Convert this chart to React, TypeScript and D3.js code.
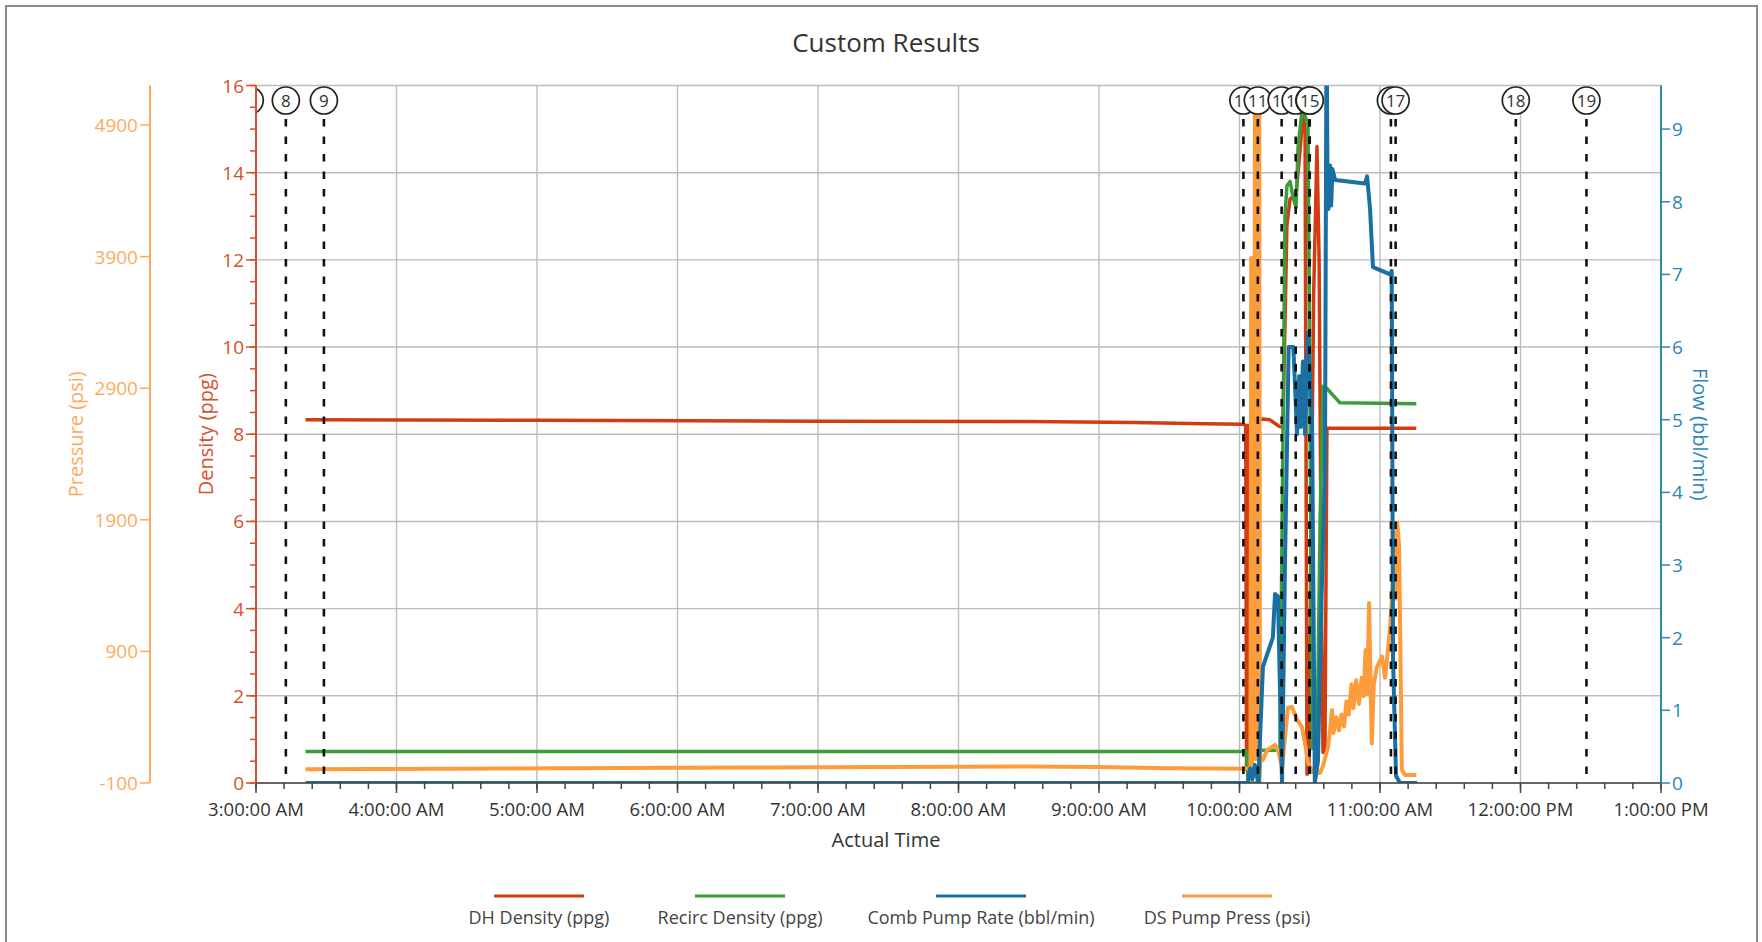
import React from 'react';
import * as d3 from 'd3';

// ---------- DATA ----------
const timeDomain: [string, string] = ['03:00:00', '13:00:00'];
const densityTicks = [0, 2, 4, 6, 8, 10, 12, 14, 16];
const pressureTicks = [-100, 900, 1900, 2900, 3900, 4900];
const flowTicks = [0, 1, 2, 3, 4, 5, 6, 7, 8, 9];
const densityDomain: [number, number] = [0, 16];
const pressureDomain: [number, number] = [-100, 5200];
const flowDomain: [number, number] = [0, 9.6];

const eventIds = [7, 8, 9, 10, 11, 12, 13, 14, 15, 16, 17, 18, 19];
const eventTimes = ['02:57:20', '03:12:45', '03:29:00', '10:01:40', '10:07:50', '10:18:00', '10:24:00', '10:29:50', '10:30:00', '11:04:40', '11:06:40', '11:58:00', '12:28:10'];

type Pt = [string, number];

const dhDensity: Pt[] = [
  ['03:21:10', 8.33], ['05:00:00', 8.32], ['07:00:00', 8.3], ['08:30:00', 8.29], ['09:15:00', 8.27],
  ['09:45:00', 8.24], ['10:01:30', 8.23], ['10:02:40', 8.2], ['10:03:00', 0.3], ['10:03:20', 8.2],
  ['10:03:40', 0.3], ['10:04:00', 0.3],
  ['10:04:30', 8.22], ['10:07:30', 8.3], ['10:09:40', 8.35], ['10:13:00', 8.33], ['10:16:25', 8.2],
  ['10:18:30', 8.15], ['10:19:25', 10.5], ['10:20:15', 12.8], ['10:21:35', 13.4], ['10:24:10', 13.5],
  ['10:25:50', 14.5], ['10:27:05', 15.3], ['10:28:00', 15.0], ['10:28:50', 0.2], ['10:29:40', 0.3],
  ['10:30:40', 6.0], ['10:31:40', 11.2], ['10:33:05', 14.6], ['10:34:00', 12.0], ['10:35:00', 4.0],
  ['10:35:40', 0.7], ['10:36:30', 0.8], ['10:37:20', 8.14], ['11:15:30', 8.14],
];

const recircDensity: Pt[] = [
  ['03:21:10', 0.72], ['10:03:10', 0.72], ['10:03:40', 0.0], ['10:08:30', 0.0], ['10:09:00', 0.75],
  ['10:17:15', 0.75], ['10:18:35', 8.0], ['10:19:25', 13.0], ['10:20:15', 13.7], ['10:21:35', 13.8],
  ['10:23:00', 13.4], ['10:24:10', 13.2], ['10:25:00', 14.6], ['10:26:40', 15.4], ['10:28:00', 15.3],
  ['10:29:15', 15.1], ['10:30:05', 9.0], ['10:31:00', 0.8], ['10:33:05', 0.8], ['10:34:25', 6.0],
  ['10:35:40', 9.1], ['10:37:20', 9.05], ['10:42:55', 8.72], ['11:15:30', 8.7],
];

const combPumpRate: Pt[] = [
  ['03:21:10', 0], ['10:03:30', 0], ['10:04:30', 0.2], ['10:05:30', 0.05], ['10:06:30', 0.25],
  ['10:08:00', 0.0], ['10:10:00', 1.6], ['10:14:15', 2.0], ['10:15:10', 2.6], ['10:16:25', 2.57],
  ['10:18:10', 0.0], ['10:19:25', 3.0], ['10:21:00', 6.0], ['10:23:00', 6.0], ['10:24:35', 4.8],
  ['10:25:30', 5.6], ['10:26:10', 4.9], ['10:27:05', 5.8], ['10:28:00', 4.8], ['10:29:15', 6.2],
  ['10:31:00', 4.95], ['10:32:10', 0.0], ['10:33:30', 0.3], ['10:35:00', 2.5], ['10:36:30', 4.3],
  ['10:37:10', 10.5], ['10:37:40', 7.9], ['10:38:00', 7.9], ['10:38:40', 8.5], ['10:39:10', 7.95],
  ['10:39:40', 8.45], ['10:40:50', 8.3], ['10:53:35', 8.25], ['10:54:30', 8.35], ['10:55:45', 7.9],
  ['10:57:00', 7.1], ['11:04:20', 7.0], ['11:05:00', 7.05], ['11:05:35', 1.7], ['11:06:50', 0.1],
  ['11:08:30', 0.0], ['11:15:50', 0.0],
];

const dsPumpPress: Pt[] = [
  ['03:21:10', 5], ['06:00:00', 15], ['08:30:00', 25], ['09:00:00', 22], ['09:30:00', 12],
  ['10:03:00', 8], ['10:04:40', 15], ['10:05:00', 3890], ['10:05:20', 60], ['10:05:40', 3890],
  ['10:06:00', 3890], ['10:06:15', 100], ['10:06:35', 5150], ['10:06:55', 80], ['10:07:15', 5150],
  ['10:07:45', 5150], ['10:08:05', 100], ['10:08:25', 5150], ['10:08:45', 80], ['10:10:00', 75], ['10:11:50', 150],
  ['10:15:10', 190], ['10:16:25', 150], ['10:18:10', 20], ['10:18:35', 90], ['10:20:40', 470],
  ['10:22:25', 477], ['10:24:35', 380], ['10:26:40', 325], ['10:28:00', 200], ['10:29:15', 52],
  ['10:31:25', -18], ['10:34:25', -24], ['10:35:40', 30], ['10:37:50', 173], ['10:38:40', 300],
  ['10:39:30', 454], ['10:40:10', 280], ['10:41:20', 400], ['10:42:30', 300], ['10:43:30', 420],
  ['10:44:40', 330], ['10:45:40', 520], ['10:46:40', 420], ['10:47:50', 650], ['10:48:40', 470],
  ['10:49:50', 680], ['10:51:00', 500], ['10:52:10', 700], ['10:53:00', 560], ['10:53:50', 910],
  ['10:54:30', 580], ['10:55:20', 1267], ['10:56:30', 200], ['10:57:20', 650], ['10:58:40', 780],
  ['11:00:50', 860], ['11:02:10', 700], ['11:03:20', 900], ['11:04:20', 1085], ['11:05:30', 1420],
  ['11:06:10', 1800], ['11:06:40', 1300], ['11:07:20', 1880], ['11:08:10', 1700], ['11:09:20', 0], ['11:10:40', -40],
  ['11:15:30', -40],
];

const legendLabels = ['DH Density (ppg)', 'Recirc Density (ppg)', 'Comb Pump Rate (bbl/min)', 'DS Pump Press (psi)'];

// ---------- STYLE / LAYOUT ----------
const W = 1762;
const H = 942;
const L = 256;
const R = 1661;
const T = 85.5;
const B = 783;
const FONT = "'Open Sans', 'Noto Sans', sans-serif";
const C_RED = '#d13c10';
const C_RED_AX = '#d4512b';
const C_GREEN = '#3b9e3a';
const C_BLUE = '#1a6fa3';
const C_BLUE_AX = '#2e85b6';
const C_ORANGE = '#fd9c3a';
const C_ORANGE_AX = '#fcab5e';
const GRID = '#bdbdbd';

const parseT = d3.timeParse('%H:%M:%S');
const pt = (s: string) => parseT(s) as Date;

export default function App() {
  const x = d3.scaleTime().domain([pt(timeDomain[0]), pt(timeDomain[1])]).range([L, R]);
  const yD = d3.scaleLinear().domain(densityDomain).range([B, T]);
  const yP = d3.scaleLinear().domain(pressureDomain).range([B, T]);
  const yF = d3.scaleLinear().domain(flowDomain).range([B, T]);

  const mk = (y: d3.ScaleLinear<number, number>) =>
    d3.line<Pt>().x((d) => x(pt(d[0]))).y((d) => y(d[1]));

  const hourTicks = x.ticks(d3.timeHour.every(1) as any);
  const minorX = x.ticks(d3.timeMinute.every(12) as any);
  const fmt = d3.timeFormat('%-I:%M:%S %p');
  const minorD = d3.range(0, 16.01, 0.5);

  const series = [
    { data: dhDensity, y: yD, color: C_RED, w: 3.5 },
    { data: recircDensity, y: yD, color: C_GREEN, w: 3.5 },
    { data: dsPumpPress, y: yP, color: C_ORANGE, w: 4 },
    { data: combPumpRate, y: yF, color: C_BLUE, w: 4 },
  ];
  const legendColors = [C_RED, C_GREEN, C_BLUE, C_ORANGE];
  const legendCenters = [539, 740, 981, 1227];
  const cy = 100.5;
  const midY = (T + B) / 2;

  return (
    <svg width={W} height={H} style={{ position: 'absolute', left: 0, top: 0, background: '#fff' }} fontFamily={FONT}>
      <defs>
        <clipPath id="plotClip">
          <rect x={L} y={T} width={R - L} height={B - T} />
        </clipPath>
        <clipPath id="markClip">
          <rect x={L} y={0} width={R - L + 40} height={B} />
        </clipPath>
      </defs>
      <rect x={6} y={6} width={1751} height={960} fill="#fff" stroke="#8a8a8a" strokeWidth={2} />

      <text x={886} y={52} textAnchor="middle" fontSize={26} fill="#333">Custom Results</text>

      {/* grid */}
      {hourTicks.map((t, i) => (
        <line key={'gx' + i} x1={x(t)} x2={x(t)} y1={T} y2={B} stroke={GRID} strokeWidth={1.4} />
      ))}
      {densityTicks.map((v) => (
        <line key={'gy' + v} x1={L} x2={R} y1={yD(v)} y2={yD(v)} stroke={GRID} strokeWidth={1.4} />
      ))}

      {/* series */}
      <g clipPath="url(#plotClip)">
        {series.map((s, i) => (
          <path key={'s' + i} d={mk(s.y)(s.data) || ''} fill="none" stroke={s.color} strokeWidth={s.w} strokeLinejoin="round" />
        ))}
      </g>

      {/* event markers */}
      <g clipPath="url(#markClip)">
        {eventTimes.map((t, i) => (
          <line key={'el' + i} x1={x(pt(t))} x2={x(pt(t))} y1={119} y2={B - 2} stroke="#111" strokeWidth={2.6} strokeDasharray="7.5 10" />
        ))}
        {eventTimes.map((t, i) => (
          <g key={'ec' + i}>
            <circle cx={x(pt(t))} cy={cy} r={13.5} fill="#fff" stroke="#222" strokeWidth={1.7} />
            <text x={x(pt(t))} y={cy + 6} textAnchor="middle" fontSize={17} fill="#333">{eventIds[i]}</text>
          </g>
        ))}
      </g>

      {/* x axis */}
      <line x1={L} x2={R} y1={B} y2={B} stroke="#444" strokeWidth={1.5} />
      {minorX.map((t, i) => (
        <line key={'mx' + i} x1={x(t)} x2={x(t)} y1={B} y2={B + 6} stroke="#444" strokeWidth={1.5} />
      ))}
      {hourTicks.map((t, i) => (
        <g key={'hx' + i}>
          <line x1={x(t)} x2={x(t)} y1={B} y2={B + 10} stroke="#444" strokeWidth={1.5} />
          <text x={x(t)} y={816} textAnchor="middle" fontSize={18.5} fill="#333">{fmt(t)}</text>
        </g>
      ))}
      <text x={886} y={847} textAnchor="middle" fontSize={20} fill="#333">Actual Time</text>

      {/* density axis */}
      <line x1={L} x2={L} y1={T} y2={B} stroke={C_RED_AX} strokeWidth={2} />
      {minorD.map((v, i) => (
        <line key={'md' + i} x1={L - 6} x2={L} y1={yD(v)} y2={yD(v)} stroke={C_RED_AX} strokeWidth={1.5} />
      ))}
      {densityTicks.map((v) => (
        <g key={'dt' + v}>
          <line x1={L - 10} x2={L} y1={yD(v)} y2={yD(v)} stroke={C_RED_AX} strokeWidth={1.5} />
          <text x={L - 12} y={yD(v) + 7} textAnchor="end" fontSize={19} fill={C_RED_AX}>{v}</text>
        </g>
      ))}
      <text transform={`translate(213,${midY}) rotate(-90)`} textAnchor="middle" fontSize={20} fill={C_RED_AX}>Density (ppg)</text>

      {/* pressure axis */}
      <line x1={150} x2={150} y1={T} y2={B} stroke={C_ORANGE_AX} strokeWidth={2} />
      {pressureTicks.map((v) => (
        <g key={'pt' + v}>
          <line x1={140} x2={150} y1={yP(v)} y2={yP(v)} stroke={C_ORANGE_AX} strokeWidth={1.5} />
          <text x={138} y={yP(v) + 7} textAnchor="end" fontSize={19} fill={C_ORANGE_AX}>{v}</text>
        </g>
      ))}
      <text transform={`translate(83,${midY}) rotate(-90)`} textAnchor="middle" fontSize={20} fill={C_ORANGE_AX}>Pressure (psi)</text>

      {/* flow axis */}
      <line x1={R} x2={R} y1={T} y2={B} stroke={C_BLUE_AX} strokeWidth={2} />
      {flowTicks.map((v) => (
        <g key={'ft' + v}>
          <line x1={R} x2={R + 9} y1={yF(v)} y2={yF(v)} stroke={C_BLUE_AX} strokeWidth={1.5} />
          <text x={R + 11} y={yF(v) + 7} textAnchor="start" fontSize={19} fill={C_BLUE_AX}>{v}</text>
        </g>
      ))}
      <text transform={`translate(1693,${midY}) rotate(90)`} textAnchor="middle" fontSize={20} fill={C_BLUE_AX}>Flow (bbl/min)</text>

      {/* legend */}
      {legendLabels.map((lab, i) => (
        <g key={'lg' + i}>
          <line x1={legendCenters[i] - 45} x2={legendCenters[i] + 45} y1={896} y2={896} stroke={legendColors[i]} strokeWidth={3} />
          <text x={legendCenters[i]} y={924} textAnchor="middle" fontSize={18} fill="#444">{lab}</text>
        </g>
      ))}
    </svg>
  );
}
